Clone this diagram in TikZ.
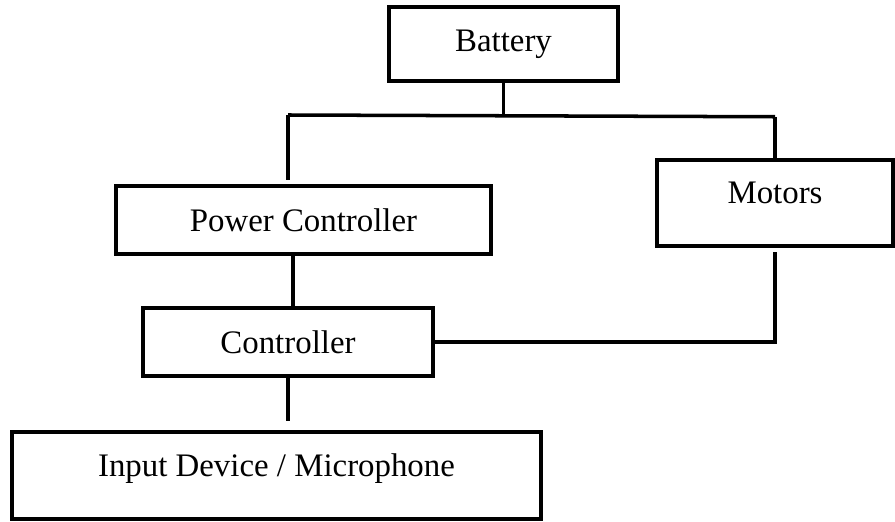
\documentclass[tikz,border=0pt]{standalone}
\usepackage{fontspec}
\setmainfont{Liberation Serif}

\begin{document}
\begin{tikzpicture}[
        box/.style={draw, rectangle, line width=2pt, inner sep=0pt, font=\fontsize{18.7}{22}\selectfont},
        lowtext/.style={text height=12pt, text depth=11pt},
        wire/.style={line width=2pt}
    ]
        \useasboundingbox (0,0) rectangle (17.9,10.42);

        \node[box, minimum width=4.58cm, minimum height=1.48cm] (battery) at (10.07, 9.54) {Battery};

        \node[box, minimum width=7.5cm, minimum height=1.36cm] (power) at (6.07, 6.02) {Power Controller};

        \node[box, lowtext, minimum width=4.72cm, minimum height=1.72cm] (motors) at (15.5, 6.36) {Motors};

        \node[box, minimum width=5.8cm, minimum height=1.36cm] (ctrl) at (5.76, 3.58) {Controller};

        \node[box, lowtext, minimum width=10.58cm, minimum height=1.74cm] (input) at (5.53, 0.91) {Input Device / Microphone};

        \draw[wire] (battery.south) -- ++(0,-0.68) coordinate (bus);
        \coordinate (busL) at (5.76, 8.12);
        \coordinate (busR) at (motors.north |- bus);
        \draw[wire] (busL) -- (busR);
        \draw[wire] (busL) -- ([yshift=0.08cm]busL |- power.north);
        \draw[wire] (busR) -- (motors.north);
        \draw[wire] ([xshift=-0.21cm]power.south) -- ([xshift=-0.21cm]power.south |- ctrl.north);
        \draw[wire] (ctrl.east) -| ([yshift=-0.08cm]motors.south);
        \draw[wire] (ctrl.south) -- ([yshift=0.18cm]ctrl.south |- input.north);
    \end{tikzpicture}
\end{document}
